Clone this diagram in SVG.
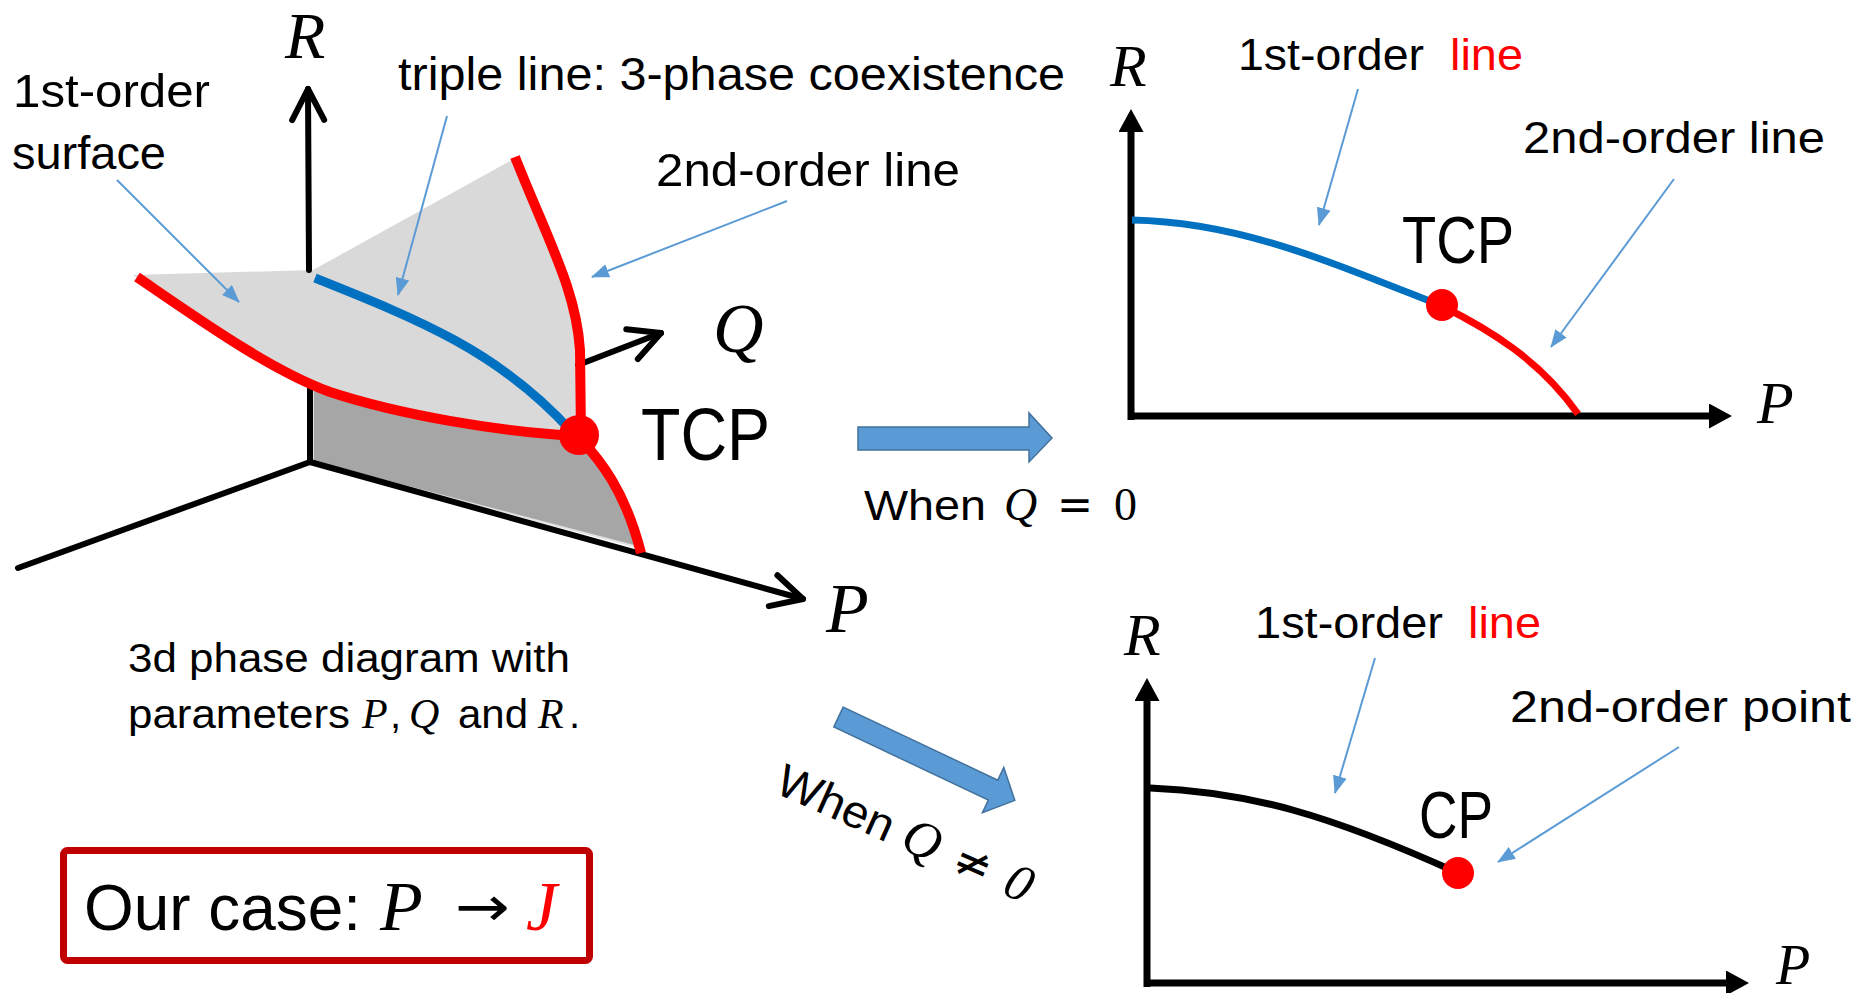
<svg xmlns="http://www.w3.org/2000/svg" width="1860" height="993" viewBox="0 0 1860 993">
<style>
.lbl{font-family:"Liberation Sans",Arial,sans-serif;fill:#000}
.math{font-family:"Liberation Serif","Times New Roman",serif;font-style:italic;fill:#000}
.sym{font-family:"DejaVu Sans","Liberation Sans",sans-serif;fill:#000}
.ax3d{stroke:#000;stroke-width:6;fill:none;stroke-linecap:round}
.ax2d{stroke:#000;stroke-width:7;fill:none}
.note{stroke:#5B9BD5;stroke-width:2;fill:none}
.red{stroke:#FF0000;fill:none;stroke-linecap:butt}
.blue{stroke:#0070C0;fill:none}
.bigarrow{fill:#5B9BD5;stroke:#41719C;stroke-width:1.5}
</style>
<defs>
<marker id="chev" viewBox="-40 -20 46 40" refX="0" refY="0" markerWidth="46" markerHeight="40" markerUnits="userSpaceOnUse" orient="auto">
<path d="M-31,-16 L0,0 L-31,16" fill="none" stroke="#000" stroke-width="6" stroke-linecap="round" stroke-linejoin="round"/>
</marker>
<marker id="tri" viewBox="0 0 23 25" refX="0" refY="12.5" markerWidth="23" markerHeight="25" markerUnits="userSpaceOnUse" orient="auto">
<path d="M0,0 L23,12.5 L0,25 z" fill="#000"/>
</marker>
<marker id="bh" viewBox="0 0 18 14" refX="17" refY="7" markerWidth="18" markerHeight="14" markerUnits="userSpaceOnUse" orient="auto">
<path d="M0,0 L18,7 L0,14 z" fill="#5B9BD5"/>
</marker>
</defs>
<rect width="1860" height="993" fill="#fff"/>

<g id="diagram-3d">
<path d="M133,275 L313,270 L512,160 L515,157 C550,245 576,290 580,350 L581,436 C520,432 400,415 330,392 C270,370 200,320 133,275 Z" fill="#D9D9D9"/>
<path d="M313,388 L330,392 C400,415 500,432 578,436 C600,460 625,490 638,547 L313,462 Z" fill="#A6A6A6" stroke="#E2E2E2" stroke-width="2"/>
<line class="ax3d" x1="309" y1="270" x2="308" y2="89" marker-end="url(#chev)"/>
<line class="ax3d" x1="310" y1="388" x2="310" y2="461" stroke-linecap="butt"/>
<line class="ax3d" x1="310" y1="462" x2="18" y2="568"/>
<line class="ax3d" x1="310" y1="462" x2="803" y2="599" marker-end="url(#chev)"/>
<line class="ax3d" x1="578" y1="365" x2="661" y2="333" marker-end="url(#chev)"/>
<path class="red" stroke-width="10" d="M137,277 C200,320 270,370 330,392 C400,415 500,432 578,436"/>
<path class="red" stroke-width="10" d="M515,157 C550,245 576,290 580,350 L581,436"/>
<path class="red" stroke-width="10" d="M578,436 C600,460 625,490 641,553"/>
<path class="blue" stroke-width="9" d="M315,278 C420,320 500,352 572,432"/>
<circle cx="579" cy="435" r="20" fill="#FF0000"/>
<text class="math" x="285" y="58" font-size="66">R</text>
<text class="math" x="713" y="352" font-size="70">Q</text>
<text class="math" x="826" y="632" font-size="70">P</text>
<text class="lbl" x="641" y="460" font-size="75" textLength="129" lengthAdjust="spacingAndGlyphs">TCP</text>
</g>

<g id="label-1st-order-surface">
<text class="lbl" x="13" y="107" font-size="47" textLength="197" lengthAdjust="spacingAndGlyphs">1st-order</text>
<text class="lbl" x="12" y="169" font-size="47" textLength="154" lengthAdjust="spacingAndGlyphs">surface</text>
</g>
<g id="label-triple-line">
<text class="lbl" x="398" y="90" font-size="47" textLength="667" lengthAdjust="spacingAndGlyphs">triple line: 3-phase coexistence</text>
</g>
<g id="label-2nd-order-line-3d">
<text class="lbl" x="656" y="186" font-size="47" textLength="304" lengthAdjust="spacingAndGlyphs">2nd-order line</text>
</g>
<g id="caption-3d">
<text class="lbl" x="128" y="672" font-size="40" textLength="442" lengthAdjust="spacingAndGlyphs">3d phase diagram with</text>
<text class="lbl" x="128" y="728" font-size="40" textLength="222" lengthAdjust="spacingAndGlyphs">parameters</text>
<text class="math" x="362" y="728" font-size="42">P</text>
<text class="lbl" x="390" y="728" font-size="40">,</text>
<text class="math" x="409" y="728" font-size="42">Q</text>
<text class="lbl" x="458" y="728" font-size="40" textLength="70" lengthAdjust="spacingAndGlyphs">and</text>
<text class="math" x="538" y="728" font-size="42">R</text>
<text class="lbl" x="569" y="728" font-size="40">.</text>
</g>

<g id="our-case">
<rect x="63.5" y="850.5" width="526" height="110" rx="4" fill="#fff" stroke="#C00000" stroke-width="7"/>
<text class="lbl" x="84" y="930" font-size="65" textLength="277" lengthAdjust="spacingAndGlyphs">Our case:</text>
<text class="math" x="380" y="930" font-size="70">P</text>
<text class="sym" x="455" y="926" font-size="56" textLength="55" lengthAdjust="spacingAndGlyphs">→</text>
<text class="math" x="526" y="930" font-size="70" style="fill:#FF0000">J</text>
</g>

<g id="panel-q-zero">
<line class="ax2d" x1="1131" y1="420" x2="1131" y2="132" marker-end="url(#tri)"/>
<line class="ax2d" x1="1128" y1="416" x2="1709" y2="416" marker-end="url(#tri)"/>
<path class="blue" stroke-width="7" d="M1132,220 C1240,222 1330,262 1442,306"/>
<path class="red" stroke-width="7" d="M1442,306 C1490,330 1540,360 1578,414"/>
<circle cx="1442" cy="305" r="16" fill="#FF0000"/>
<text class="math" x="1110" y="86" font-size="60">R</text>
<text class="math" x="1757" y="423" font-size="60">P</text>
<text class="lbl" x="1402" y="263" font-size="67" textLength="112" lengthAdjust="spacingAndGlyphs">TCP</text>
<text class="lbl" x="1238" y="70" font-size="45" textLength="186" lengthAdjust="spacingAndGlyphs">1st-order</text>
<text class="lbl" x="1450" y="70" font-size="45" textLength="73" lengthAdjust="spacingAndGlyphs" style="fill:#FF0000">line</text>
<text class="lbl" x="1523" y="153" font-size="45" textLength="302" lengthAdjust="spacingAndGlyphs">2nd-order line</text>
</g>

<g id="panel-q-nonzero">
<line class="ax2d" x1="1147" y1="987" x2="1147" y2="701" marker-end="url(#tri)"/>
<line class="ax2d" x1="1144" y1="983" x2="1726" y2="983" marker-end="url(#tri)"/>
<path stroke="#000" stroke-width="7" fill="none" d="M1150,788 C1250,792 1330,815 1458,873"/>
<circle cx="1458" cy="873" r="16" fill="#FF0000"/>
<text class="math" x="1124" y="655" font-size="60">R</text>
<text class="math" x="1776" y="984" font-size="56">P</text>
<text class="lbl" x="1419" y="838" font-size="66" textLength="74" lengthAdjust="spacingAndGlyphs">CP</text>
<text class="lbl" x="1255" y="638" font-size="45" textLength="188" lengthAdjust="spacingAndGlyphs">1st-order</text>
<text class="lbl" x="1468" y="638" font-size="45" textLength="73" lengthAdjust="spacingAndGlyphs" style="fill:#FF0000">line</text>
<text class="lbl" x="1510" y="722" font-size="45" textLength="341" lengthAdjust="spacingAndGlyphs">2nd-order point</text>
</g>

<g id="transition-q-zero">
<polygon class="bigarrow" points="858,427 1029,427 1029,413 1052,438 1029,462 1029,450 858,450"/>
<text class="lbl" x="864" y="520" font-size="42" textLength="122" lengthAdjust="spacingAndGlyphs">When</text>
<text class="math" x="1004" y="520" font-size="46">Q</text>
<text class="sym" x="1057" y="520" font-size="44" textLength="36" lengthAdjust="spacingAndGlyphs">=</text>
<text x="1114" y="520" font-size="46" font-family="Liberation Serif, serif">0</text>
</g>

<g id="transition-q-nonzero">
<polygon class="bigarrow" transform="translate(838.5,717) rotate(25.3)" points="0,-11 171,-11 171,-25 195,0 171,25 171,11 0,11"/>
<g transform="rotate(24 773 792)">
<text class="lbl" x="773" y="792" font-size="46" textLength="124" lengthAdjust="spacingAndGlyphs">When</text>
<text class="math" x="910" y="792" font-size="52">Q</text>
<text class="sym" x="966" y="792" font-size="48" textLength="38" lengthAdjust="spacingAndGlyphs">≠</text>
<text x="1022" y="792" font-size="52" font-family="Liberation Serif, serif" font-style="italic">0</text>
</g>
</g>

<g id="connectors">
<line class="note" x1="117" y1="180" x2="239" y2="302" marker-end="url(#bh)"/>
<line class="note" x1="447" y1="116" x2="398" y2="295" marker-end="url(#bh)"/>
<line class="note" x1="787" y1="201" x2="592" y2="277" marker-end="url(#bh)"/>
<line class="note" x1="1358" y1="89" x2="1319" y2="225" marker-end="url(#bh)"/>
<line class="note" x1="1674" y1="179" x2="1551" y2="347" marker-end="url(#bh)"/>
<line class="note" x1="1375" y1="658" x2="1335" y2="793" marker-end="url(#bh)"/>
<line class="note" x1="1679" y1="747" x2="1498" y2="862" marker-end="url(#bh)"/>
</g>
</svg>
